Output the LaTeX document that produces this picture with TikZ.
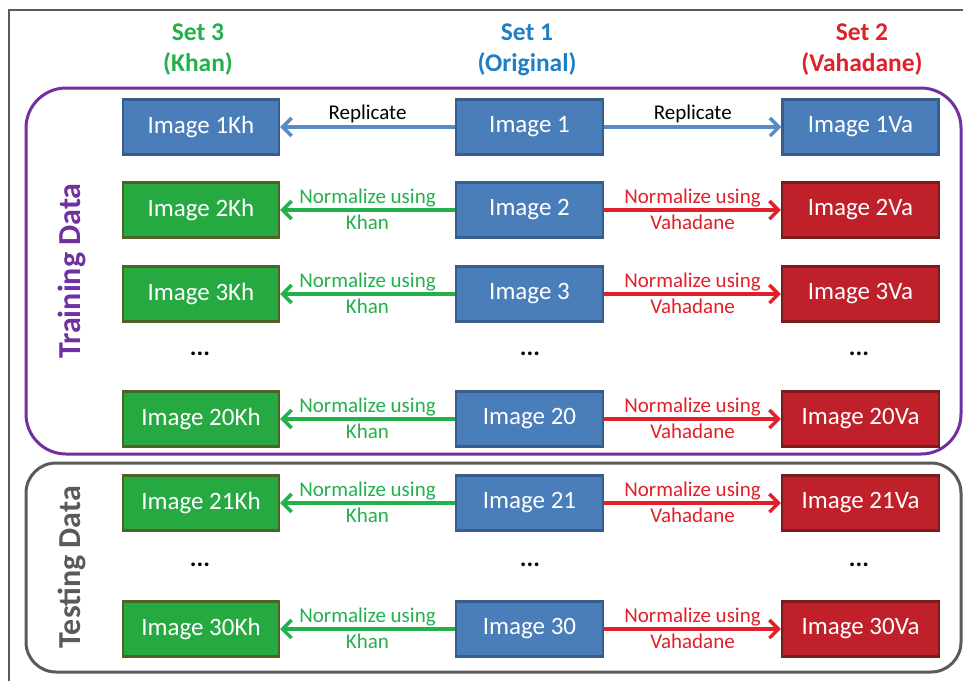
\documentclass[tikz,border=0pt]{standalone}
\usepackage{fontspec}
\setmainfont{Carlito}
\usetikzlibrary{arrows.meta}
\definecolor{bfill}{HTML}{4A7EBB}
\definecolor{bdraw}{HTML}{385D8A}
\definecolor{gfill}{HTML}{27A942}
\definecolor{gdraw}{HTML}{4F6228}
\definecolor{rfill}{HTML}{C0202A}
\definecolor{rdraw}{HTML}{7A1C1C}
\definecolor{gtext}{HTML}{22B14C}
\definecolor{rtext}{HTML}{E0202A}
\definecolor{btext}{HTML}{1F7FC4}
\definecolor{barrow}{HTML}{5A8AC6}
\definecolor{purp}{HTML}{7030A0}
\definecolor{grayc}{HTML}{5A5A5A}
\tikzset{
  imgbox/.style={minimum height=55pt, inner sep=0pt, line width=2.4pt, text=white,
    font=\fontsize{25}{29}\selectfont},
  ob/.style={imgbox, minimum width=147pt, fill=bfill, draw=bdraw},
  bb/.style={imgbox, minimum width=156pt, fill=bfill, draw=bdraw},
  gb/.style={imgbox, minimum width=156pt, fill=gfill, draw=gdraw},
  rb/.style={imgbox, minimum width=157pt, fill=rfill, draw=rdraw},
  conn/.style={line width=3.4pt, -{Straight Barb[length=9pt,width=18pt]}},
  lab/.style={font=\fontsize{21}{23}\selectfont, inner sep=0pt},
  hdr/.style={font=\bfseries\fontsize{25.5}{31}\selectfont, align=center},
  dots/.style={font=\bfseries\fontsize{25}{27}\selectfont},
  grp/.style={font=\bfseries\fontsize{32}{36}\selectfont, rotate=90},
}
\begin{document}
\begin{tikzpicture}[x=1pt,y=-1pt]
\useasboundingbox (0,0) rectangle (963,681);
\fill[white] (0,0) rectangle (963,681);
% outer frame (cropped)
\draw[line width=1.4pt, color=grayc] (963,10) -- (9,10) -- (9,681);
% group boxes
\draw[purp, line width=3pt, rounded corners=40pt] (26,88) rectangle (961,454);
\draw[grayc, line width=3pt, rounded corners=30pt] (26,463) rectangle (961,672);
% headers
\node[hdr, text=gtext] (h3) at (198,50) {Set 3\\(Khan)};
\node[hdr, text=btext] (h1) at (527,50) {Set 1\\(Original)};
\node[hdr, text=rtext] (h2) at (862,50) {Set 2\\(Vahadane)};
% group labels
\node[grp, text=purp] (train) at (72,271) {Training Data};
\node[grp, text=grayc] (test) at (72,567) {Testing Data};
% row 1
\node[bb] (k1) at (201,127) {Image 1Kh};
\node[ob] (o1) at (529.5,127) {Image 1};
\node[bb] (v1) at (860.5,127) {Image 1Va};
\draw[conn, barrow] (o1) -- (k1) node[midway, above=2pt, lab, text=black] {Replicate};
\draw[conn, barrow] (o1) -- (v1) node[midway, above=2pt, lab, text=black] {Replicate};
% normalized rows
\foreach \n/\y in {2/210,3/294,20/419,21/503,30/629}{
  \node[gb] (k\n) at (201,\y) {Image \n Kh};
  \node[ob] (o\n) at (529.5,\y) {Image \n};
  \node[rb] (v\n) at (860.5,\y) {Image \n Va};
  \draw[conn, gtext] (o\n) -- (k\n)
    node[midway, above=1.5pt, lab, text=gtext] {Normalize using}
    node[midway, below=3.5pt, lab, text=gtext] {Khan};
  \draw[conn, rtext] (o\n) -- (v\n)
    node[midway, above=1.5pt, lab, text=rtext] {Normalize using}
    node[midway, below=3.5pt, lab, text=rtext] {Vahadane};
}
% dots
\foreach \y/\t in {354/a,565/b}{
  \node[dots] (dk\t) at (200,\y) {...};
  \node[dots] (do\t) at (530,\y) {...};
  \node[dots] (dv\t) at (859,\y) {...};
}
\end{tikzpicture}
\end{document}
